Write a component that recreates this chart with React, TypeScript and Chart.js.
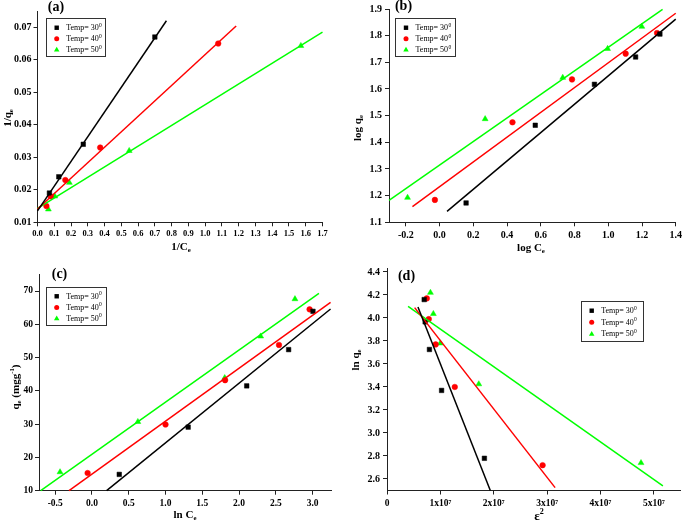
import React, { useEffect, useRef } from "react";
import { Chart, registerables } from "chart.js";
Chart.register(...registerables);

const SERIF = "'Liberation Serif', 'Times New Roman', serif";

// ---------- shared series info ----------
const legendLabels = ["Temp= 30", "Temp= 40", "Temp= 50"];
const legendSup = "0";
const seriesColors = ["#000000", "#ff0000", "#00ff00"];
const pointStyles = ["rect", "circle", "triangle"];
const pointRadii = [3.2, 2.8, 3.4];

// ---------- panel (a): Langmuir ----------
const aX30 = [0.071, 0.127, 0.273, 0.70];
const aY30 = [0.019, 0.024, 0.034, 0.067];
const aFitX30 = [0.0, 0.769];
const aFitY30 = [0.0135, 0.072];
const aX40 = [0.053, 0.079, 0.166, 0.374, 1.078];
const aY40 = [0.015, 0.018, 0.023, 0.033, 0.065];
const aFitX40 = [0.0, 1.185];
const aFitY40 = [0.0141, 0.0704];
const aX50 = [0.065, 0.103, 0.19, 0.547, 1.571];
const aY50 = [0.014, 0.018, 0.0222, 0.032, 0.0643];
const aFitX50 = [0.0, 1.7];
const aFitY50 = [0.0143, 0.0685];
const aXTicks = [0, 0.1, 0.2, 0.3, 0.4, 0.5, 0.6, 0.7, 0.8, 0.9, 1.0, 1.1, 1.2, 1.3, 1.4, 1.5, 1.6, 1.7];
const aXLabels = ["0.0", "0.1", "0.2", "0.3", "0.4", "0.5", "0.6", "0.7", "0.8", "0.9", "1.0", "1.1", "1.2", "1.3", "1.4", "1.5", "1.6", "1.7"];
const aYTicks = [0.01, 0.02, 0.03, 0.04, 0.05, 0.06, 0.07];
const aYLabels = ["0.01", "0.02", "0.03", "0.04", "0.05", "0.06", "0.07"];

// ---------- panel (b): Freundlich ----------
const bX30 = [0.157, 0.567, 0.918, 1.162, 1.306];
const bY30 = [1.1725, 1.464, 1.6175, 1.72, 1.806];
const bFitX30 = [0.044, 1.4];
const bFitY30 = [1.141, 1.862];
const bX40 = [-0.028, 0.432, 0.785, 1.103, 1.289];
const bY40 = [1.184, 1.475, 1.636, 1.7325, 1.81];
const bFitX40 = [-0.161, 1.4];
const bFitY40 = [1.159, 1.884];
const bX50 = [-0.19, 0.27, 0.73, 0.996, 1.199];
const bY50 = [1.1925, 1.4875, 1.6425, 1.751, 1.834];
const bFitX50 = [-0.3, 1.322];
const bFitY50 = [1.1825, 1.899];
const bXTicks = [-0.2, 0, 0.2, 0.4, 0.6, 0.8, 1.0, 1.2, 1.4];
const bXLabels = ["-0.2", "0.0", "0.2", "0.4", "0.6", "0.8", "1.0", "1.2", "1.4"];
const bYTicks = [1.1, 1.2, 1.3, 1.4, 1.5, 1.6, 1.7, 1.8, 1.9];
const bYLabels = ["1.1", "1.2", "1.3", "1.4", "1.5", "1.6", "1.7", "1.8", "1.9"];

// ---------- panel (c): Temkin ----------
const cX30 = [0.371, 1.308, 2.104, 2.674, 3.005];
const cY30 = [14.9, 29.1, 41.5, 52.4, 63.9];
const cFitX30 = [0.199, 3.244];
const cFitY30 = [10, 64.6];
const cX40 = [-0.059, 1.0, 1.81, 2.543, 2.959];
const cY40 = [15.3, 29.9, 43.2, 53.8, 64.5];
const cFitX40 = [-0.312, 3.244];
const cFitY40 = [10, 66.6];
const cX50 = [-0.434, 0.624, 1.805, 2.294, 2.76];
const cY50 = [15.6, 30.7, 43.9, 56.4, 67.6];
const cFitX50 = [-0.697, 3.086];
const cFitY50 = [10, 69.3];
const cXTicks = [-0.5, 0, 0.5, 1.0, 1.5, 2.0, 2.5, 3.0];
const cXLabels = ["-0.5", "0.0", "0.5", "1.0", "1.5", "2.0", "2.5", "3.0"];
const cYTicks = [10, 20, 30, 40, 50, 60, 70];
const cYLabels = ["10", "20", "30", "40", "50", "60", "70"];

// ---------- panel (d): D-R ----------
const dX30 = [0.697e7, 0.715e7, 0.795e7, 1.023e7, 1.825e7];
const dY30 = [4.16, 3.966, 3.726, 3.37, 2.78];
const dFitX30 = [0.58e7, 1.936e7];
const dFitY30 = [4.096, 2.5];
const dX40 = [0.746e7, 0.783e7, 0.912e7, 1.27e7, 2.916e7];
const dY40 = [4.17, 3.99, 3.77, 3.4, 2.72];
const dFitX40 = [0.518e7, 3.15e7];
const dFitY40 = [4.09, 2.525];
const dX50 = [0.814e7, 0.869e7, 0.999e7, 1.72e7, 4.76e7];
const dY50 = [4.22, 4.036, 3.78, 3.425, 2.74];
const dFitX50 = [0.395e7, 5.17e7];
const dFitY50 = [4.1, 2.54];
const dXTicks = [0, 1e7, 2e7, 3e7, 4e7, 5e7];
const dXLabels = ["0", "1x10⁷", "2x10⁷", "3x10⁷", "4x10⁷", "5x10⁷"];
const dYTicks = [2.6, 2.8, 3.0, 3.2, 3.4, 3.6, 3.8, 4.0, 4.2, 4.4];
const dYLabels = ["2.6", "2.8", "3.0", "3.2", "3.4", "3.6", "3.8", "4.0", "4.2", "4.4"];

type Seg = { t: string; s?: "sub" | "sup" };

interface PanelCfg {
  box: number[]; // x, y, w, h (page)
  area: number[]; // L, T, R, B (page)
  xMin: number; xMax: number; yMin: number; yMax: number;
  xTicks: number[]; xLabels: string[]; yTicks: number[]; yLabels: string[];
  xFont: number; yFont: number; xPad: number; yPad: number;
  series: { x: number[]; y: number[]; fx: number[]; fy: number[] }[];
  letter: string; letterPos: number[];
  legend: number[]; // x, y, w, h
  xTitle: Seg[]; xTitlePos: number[]; xTitleSize: number;
  yTitle: Seg[]; yTitlePos: number[]; titleSize: number;
}

const panels: PanelCfg[] = [
  {
    box: [0, 0, 340, 258], area: [37.5, 11, 322.5, 222.3],
    xMin: 0, xMax: 1.7, yMin: 0.01, yMax: 0.075,
    xTicks: aXTicks, xLabels: aXLabels, yTicks: aYTicks, yLabels: aYLabels,
    xFont: 8.5, yFont: 10, xPad: 2, yPad: 2,
    series: [
      { x: aX30, y: aY30, fx: aFitX30, fy: aFitY30 },
      { x: aX40, y: aY40, fx: aFitX40, fy: aFitY40 },
      { x: aX50, y: aY50, fx: aFitX50, fy: aFitY50 },
    ],
    letter: "(a)", letterPos: [56, 7],
    legend: [45.7, 18.3, 58.6, 37.7],
    xTitle: [{ t: "1/C" }, { t: "e", s: "sub" }], xTitlePos: [181, 246], xTitleSize: 11,
    yTitle: [{ t: "1/q" }, { t: "e", s: "sub" }], yTitlePos: [7, 118], titleSize: 11,
  },
  {
    box: [340, 0, 345, 258], area: [389, 9, 676.7, 222.3],
    xMin: -0.3, xMax: 1.4, yMin: 1.1, yMax: 1.9,
    xTicks: bXTicks, xLabels: bXLabels, yTicks: bYTicks, yLabels: bYLabels,
    xFont: 10, yFont: 10, xPad: 3, yPad: 3,
    series: [
      { x: bX30, y: bY30, fx: bFitX30, fy: bFitY30 },
      { x: bX40, y: bY40, fx: bFitX40, fy: bFitY40 },
      { x: bX50, y: bY50, fx: bFitX50, fy: bFitY50 },
    ],
    letter: "(b)", letterPos: [403.5, 6],
    legend: [395, 18.3, 60, 37.7],
    xTitle: [{ t: "log C" }, { t: "e", s: "sub" }], xTitlePos: [531, 247], xTitleSize: 11,
    yTitle: [{ t: "log q" }, { t: "e", s: "sub" }], yTitlePos: [357, 128], titleSize: 11,
  },
  {
    box: [0, 258, 340, 266], area: [39, 274.4, 331, 490.7],
    xMin: -0.72, xMax: 3.25, yMin: 10, yMax: 75,
    xTicks: cXTicks, xLabels: cXLabels, yTicks: cYTicks, yLabels: cYLabels,
    xFont: 9.5, yFont: 9.5, xPad: 3, yPad: 2,
    series: [
      { x: cX30, y: cY30, fx: cFitX30, fy: cFitY30 },
      { x: cX40, y: cY40, fx: cFitX40, fy: cFitY40 },
      { x: cX50, y: cY50, fx: cFitX50, fy: cFitY50 },
    ],
    letter: "(c)", letterPos: [59.5, 274],
    legend: [45.7, 286.7, 60.3, 38.3],
    xTitle: [{ t: "ln C" }, { t: "e", s: "sub" }], xTitlePos: [185, 514], xTitleSize: 11,
    yTitle: [{ t: "q" }, { t: "e", s: "sub" }, { t: " (mgg" }, { t: "-1", s: "sup" }, { t: ")" }], yTitlePos: [15, 387], titleSize: 11,
  },
  {
    box: [340, 258, 345, 266], area: [387, 268.5, 684, 490.5],
    xMin: 0, xMax: 5.5e7, yMin: 2.5, yMax: 4.43,
    xTicks: dXTicks, xLabels: dXLabels, yTicks: dYTicks, yLabels: dYLabels,
    xFont: 9.5, yFont: 10, xPad: 3, yPad: 3,
    series: [
      { x: dX30, y: dY30, fx: dFitX30, fy: dFitY30 },
      { x: dX40, y: dY40, fx: dFitX40, fy: dFitY40 },
      { x: dX50, y: dY50, fx: dFitX50, fy: dFitY50 },
    ],
    letter: "(d)", letterPos: [406.5, 276],
    legend: [580.7, 300.7, 61.6, 40],
    xTitle: [{ t: "ε" }, { t: "2", s: "sup" }], xTitlePos: [539, 515], xTitleSize: 13,
    yTitle: [{ t: "ln q" }, { t: "e", s: "sub" }], yTitlePos: [355, 360], titleSize: 11,
  },
];

function drawRich(ctx: CanvasRenderingContext2D, segs: Seg[], x: number, y: number, size: number, bold: boolean, rotate: boolean) {
  ctx.save();
  ctx.translate(x, y);
  if (rotate) ctx.rotate(-Math.PI / 2);
  const fontFor = (s?: string) => `${bold ? "bold " : ""}${s ? size * 0.62 : size}px ${SERIF}`;
  let total = 0;
  segs.forEach((g) => {
    ctx.font = fontFor(g.s);
    total += ctx.measureText(g.t).width;
  });
  let cx = -total / 2;
  ctx.textBaseline = "alphabetic";
  ctx.textAlign = "left";
  ctx.fillStyle = "#000";
  segs.forEach((g) => {
    ctx.font = fontFor(g.s);
    const dy = g.s === "sub" ? size * 0.22 : g.s === "sup" ? -size * 0.42 : 0;
    ctx.fillText(g.t, cx, size * 0.35 + dy);
    cx += ctx.measureText(g.t).width;
  });
  ctx.restore();
}

function drawMarker(ctx: CanvasRenderingContext2D, style: string, x: number, y: number, r: number, color: string) {
  ctx.save();
  ctx.fillStyle = color;
  ctx.beginPath();
  if (style === "rect") {
    ctx.rect(x - r, y - r, 2 * r, 2 * r);
  } else if (style === "circle") {
    ctx.arc(x, y, r, 0, Math.PI * 2);
  } else {
    ctx.moveTo(x, y - r * 1.15);
    ctx.lineTo(x + r * 1.1, y + r * 0.75);
    ctx.lineTo(x - r * 1.1, y + r * 0.75);
    ctx.closePath();
  }
  ctx.fill();
  ctx.restore();
}

function makeDecor(cfg: PanelCfg) {
  return {
    id: "decor",
    afterDraw(chart: any) {
      const ctx: CanvasRenderingContext2D = chart.ctx;
      const ox = cfg.box[0];
      const oy = cfg.box[1];
      // panel letter
      ctx.save();
      ctx.font = `bold 14px ${SERIF}`;
      ctx.fillStyle = "#000";
      ctx.textAlign = "center";
      ctx.textBaseline = "middle";
      ctx.fillText(cfg.letter, cfg.letterPos[0] - ox, cfg.letterPos[1] - oy);
      ctx.restore();
      // legend box
      const [lx, ly, lw, lh] = cfg.legend;
      ctx.save();
      ctx.fillStyle = "#fff";
      ctx.fillRect(lx - ox, ly - oy, lw, lh);
      ctx.strokeStyle = "#333";
      ctx.lineWidth = 1;
      ctx.strokeRect(Math.round(lx - ox) + 0.5, Math.round(ly - oy) + 0.5, Math.round(lw), Math.round(lh));
      const rows = [lh * 0.25, lh * 0.54, lh * 0.83];
      legendLabels.forEach((lab, i) => {
        const ry = ly - oy + rows[i];
        drawMarker(ctx, pointStyles[i], lx - ox + 11, ry, i === 0 ? 2.2 : 2.5, seriesColors[i]);
        ctx.fillStyle = "#000";
        ctx.font = `8px ${SERIF}`;
        ctx.textAlign = "left";
        ctx.textBaseline = "middle";
        const tx = lx - ox + 20.5;
        ctx.fillText(lab, tx, ry + 0.5);
        const w = ctx.measureText(lab).width;
        ctx.font = `5.5px ${SERIF}`;
        ctx.fillText(legendSup, tx + w + 0.3, ry - 2.5);
      });
      ctx.restore();
      // axis titles
      drawRich(ctx, cfg.xTitle, cfg.xTitlePos[0] - ox, cfg.xTitlePos[1] - oy, cfg.xTitleSize, true, false);
      drawRich(ctx, cfg.yTitle, cfg.yTitlePos[0] - ox, cfg.yTitlePos[1] - oy, cfg.titleSize, true, true);
    },
  };
}

function Panel({ cfg }: { cfg: PanelCfg }) {
  const ref = useRef<HTMLCanvasElement>(null);
  useEffect(() => {
    const [cx, cy, cw, ch] = cfg.box;
    const [L, T, R, B] = cfg.area;
    const datasets: any[] = [];
    cfg.series.forEach((s, i) => {
      datasets.push({
        data: s.fx.map((x, j) => ({ x, y: s.fy[j] })),
        showLine: true,
        borderColor: seriesColors[i],
        borderWidth: 1.5,
        pointRadius: 0,
        fill: false,
        clip: false,
      });
    });
    cfg.series.forEach((s, i) => {
      datasets.push({
        data: s.x.map((x, j) => ({ x, y: s.y[j] })),
        showLine: false,
        backgroundColor: seriesColors[i],
        borderColor: seriesColors[i],
        borderWidth: 0.5,
        pointStyle: pointStyles[i],
        pointRadius: pointRadii[i],
        clip: false,
      });
    });
    const gridOpts = { display: true, drawOnChartArea: false, drawTicks: true, tickLength: 4, color: "#222", lineWidth: 1 };
    const borderOpts = { display: true, color: "#222", width: 1 };
    const chart = new Chart(ref.current as HTMLCanvasElement, {
      type: "scatter",
      data: { datasets },
      options: {
        responsive: false,
        animation: false,
        devicePixelRatio: 1,
        layout: { padding: { left: 0, top: T - cy, right: cx + cw - R, bottom: 0 } },
        plugins: { legend: { display: false }, tooltip: { enabled: false } },
        scales: {
          x: {
            type: "linear",
            min: cfg.xMin,
            max: cfg.xMax,
            afterBuildTicks: (s: any) => {
              s.ticks = cfg.xTicks.map((v) => ({ value: v }));
            },
            afterFit: (s: any) => {
              s.height = cy + ch - B;
            },
            ticks: {
              autoSkip: false,
              maxRotation: 0,
              padding: cfg.xPad,
              color: "#000",
              font: { family: SERIF, size: cfg.xFont, weight: "bold" },
              callback: (_v: any, i: number) => cfg.xLabels[i],
            },
            grid: gridOpts,
            border: borderOpts,
          },
          y: {
            type: "linear",
            min: cfg.yMin,
            max: cfg.yMax,
            afterBuildTicks: (s: any) => {
              s.ticks = cfg.yTicks.map((v) => ({ value: v }));
            },
            afterFit: (s: any) => {
              s.width = L - cx;
            },
            ticks: {
              autoSkip: false,
              padding: cfg.yPad,
              color: "#000",
              font: { family: SERIF, size: cfg.yFont, weight: "bold" },
              callback: (_v: any, i: number) => cfg.yLabels[i],
            },
            grid: gridOpts,
            border: borderOpts,
          },
        },
      } as any,
      plugins: [makeDecor(cfg)],
    });
    return () => chart.destroy();
  }, [cfg]);
  return (
    <canvas
      ref={ref}
      width={cfg.box[2]}
      height={cfg.box[3]}
      style={{ position: "absolute", left: cfg.box[0], top: cfg.box[1], width: cfg.box[2], height: cfg.box[3] }}
    />
  );
}

export default function App() {
  return (
    <div style={{ position: "absolute", left: 0, top: 0, width: 685, height: 524, background: "#fff", overflow: "hidden" }}>
      {panels.map((p, i) => (
        <Panel key={i} cfg={p} />
      ))}
    </div>
  );
}
